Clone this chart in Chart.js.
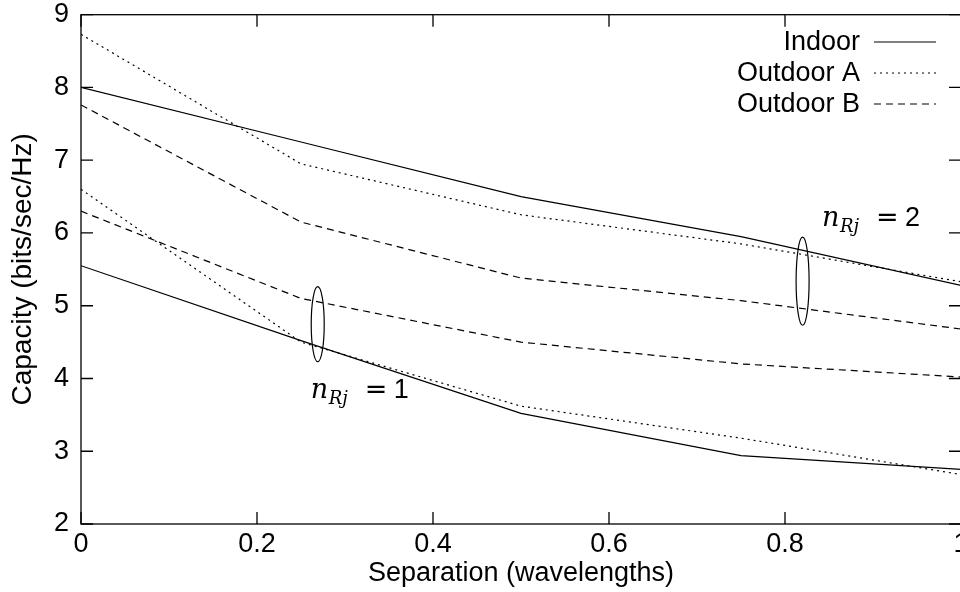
<!DOCTYPE html>
<html>
<head>
<meta charset="utf-8">
<script src="https://cdn.jsdelivr.net/npm/chart.js@4/dist/chart.umd.min.js"></script>
<style>
  html, body { margin: 0; padding: 0; background: #fff; overflow: hidden; }
  #wrap { width: 1000px; height: 592px; }
</style>
</head>
<body>
<div id="wrap"><canvas id="capChart" width="1000" height="592"></canvas></div>
<script>
// separation (wavelengths)
const separation = [0, 0.25, 0.5, 0.75, 1];

// n_Rj = 2
const indoor2   = [8.00, 7.25, 6.50, 5.95, 5.28];
const outdoorA2 = [8.73, 6.95, 6.25, 5.85, 5.33];
const outdoorB2 = [7.76, 6.15, 5.38, 5.07, 4.68];

// n_Rj = 1
const indoor1   = [5.55, 4.52, 3.52, 2.94, 2.75];
const outdoorA1 = [6.60, 4.50, 3.62, 3.18, 2.68];
const outdoorB1 = [6.30, 5.10, 4.50, 4.20, 4.02];

const legendNames = ['Indoor', 'Outdoor A', 'Outdoor B'];
const xTicks = [0, 0.2, 0.4, 0.6, 0.8, 1];
const yTicks = [2, 3, 4, 5, 6, 7, 8, 9];

const FONT = '"Liberation Sans", Arial, Helvetica, sans-serif';
const MATH = '"DejaVu Serif", "Liberation Serif", serif';

const styles = {
  indoor: [],
  outdoorA: [2, 4],
  outdoorB: [7, 5]
};

function pts(vals) {
  return vals.map((v, i) => ({ x: separation[i], y: v }));
}

function ds(label, vals, dash) {
  return {
    label: label,
    data: pts(vals),
    borderColor: '#000',
    borderWidth: 1.2,
    borderDash: dash,
    pointRadius: 0,
    tension: 0,
    fill: false
  };
}

// box, inside ticks, ellipses, n_Rj labels and legend
const decorations = {
  id: 'decorations',
  afterDatasetsDraw(chart) {
    const ctx = chart.ctx;
    const a = chart.chartArea;
    const xs = chart.scales.x, ys = chart.scales.y;
    ctx.save();
    ctx.strokeStyle = '#000';
    ctx.lineWidth = 1.3;
    ctx.setLineDash([]);
    ctx.strokeRect(a.left, a.top, a.right - a.left, a.bottom - a.top);

    const tl = 12;
    ctx.beginPath();
    xTicks.forEach(v => {
      const px = xs.getPixelForValue(v);
      ctx.moveTo(px, a.bottom); ctx.lineTo(px, a.bottom - tl);
      ctx.moveTo(px, a.top); ctx.lineTo(px, a.top + tl);
    });
    yTicks.forEach(v => {
      const py = ys.getPixelForValue(v);
      ctx.moveTo(a.left, py); ctx.lineTo(a.left + tl, py);
      ctx.moveTo(a.right, py); ctx.lineTo(a.right - tl, py);
    });
    ctx.stroke();

    // ellipses around the curve groups
    ctx.lineWidth = 1.2;
    [[0.269, 4.746, 0.516], [0.82, 5.337, 0.605]].forEach(e => {
      const cx = xs.getPixelForValue(e[0]);
      const cy = ys.getPixelForValue(e[1]);
      const ry = cy - ys.getPixelForValue(e[1] + e[2]);
      ctx.beginPath();
      ctx.ellipse(cx, cy, 6.5, ry, 0, 0, Math.PI * 2);
      ctx.stroke();
    });

    // n_Rj labels
    ctx.fillStyle = '#000';
    ctx.textAlign = 'left';
    ctx.textBaseline = 'alphabetic';
    [[0.261, 3.728, '1'], [0.842, 6.094, '2']].forEach(l => {
      const x0 = xs.getPixelForValue(l[0]);
      const y0 = ys.getPixelForValue(l[1]);
      ctx.font = 'italic 27px ' + MATH;
      ctx.fillText('n', x0, y0);
      ctx.font = 'italic 18px ' + MATH;
      ctx.fillText('Rj', x0 + 18, y0 + 6);
      ctx.font = '27px "DejaVu Sans", sans-serif';
      ctx.fillText('=', x0 + 54, y0);
      ctx.font = '27px ' + FONT;
      ctx.fillText(l[2], x0 + 83, y0);
    });

    // legend: text right aligned, line sample on the right
    const dashes = [styles.indoor, styles.outdoorA, styles.outdoorB];
    const rowY = [42, 73, 104];
    ctx.font = '27px ' + FONT;
    ctx.textAlign = 'right';
    ctx.textBaseline = 'middle';
    legendNames.forEach((name, i) => {
      ctx.fillText(name, 860, rowY[i] + 1);
      ctx.setLineDash(dashes[i]);
      ctx.lineWidth = 1.2;
      ctx.beginPath();
      ctx.moveTo(874, rowY[i]);
      ctx.lineTo(936, rowY[i]);
      ctx.stroke();
    });
    ctx.restore();
  }
};

const ctx = document.getElementById('capChart').getContext('2d');
new Chart(ctx, {
  type: 'line',
  data: {
    datasets: [
      ds('Indoor', indoor2, styles.indoor),
      ds('Outdoor A', outdoorA2, styles.outdoorA),
      ds('Outdoor B', outdoorB2, styles.outdoorB),
      ds('Indoor 1', indoor1, styles.indoor),
      ds('Outdoor A 1', outdoorA1, styles.outdoorA),
      ds('Outdoor B 1', outdoorB1, styles.outdoorB)
    ]
  },
  options: {
    responsive: false,
    animation: false,
    layout: { padding: { top: 14.7, right: 39, left: 0, bottom: 0 } },
    plugins: {
      legend: { display: false },
      tooltip: { enabled: false }
    },
    scales: {
      x: {
        type: 'linear',
        min: 0,
        max: 1,
        afterFit: s => { s.height = 68; s.paddingLeft = 0; s.paddingRight = 0; },
        afterBuildTicks: s => { s.ticks = xTicks.map(v => ({ value: v })); },
        grid: { display: false, drawTicks: false },
        border: { display: false },
        ticks: {
          color: '#000',
          font: { family: FONT, size: 27 },
          padding: 4,
          maxRotation: 0,
          callback: v => String(Number(v.toFixed(1)))
        },
        title: {
          display: true,
          text: 'Separation (wavelengths)',
          color: '#000',
          font: { family: FONT, size: 27 },
          padding: { top: 0, bottom: 2 }
        }
      },
      y: {
        min: 2,
        max: 9,
        afterFit: s => { s.width = 81; s.paddingTop = 0; s.paddingBottom = 0; },
        afterBuildTicks: s => { s.ticks = yTicks.map(v => ({ value: v })); },
        grid: { display: false, drawTicks: false },
        border: { display: false },
        ticks: {
          color: '#000',
          font: { family: FONT, size: 27 },
          padding: 12
        },
        title: {
          display: true,
          text: 'Capacity (bits/sec/Hz)',
          color: '#000',
          font: { family: FONT, size: 28 },
          padding: { top: 6, bottom: 0 }
        }
      }
    }
  },
  plugins: [decorations]
});
</script>
</body>
</html>
